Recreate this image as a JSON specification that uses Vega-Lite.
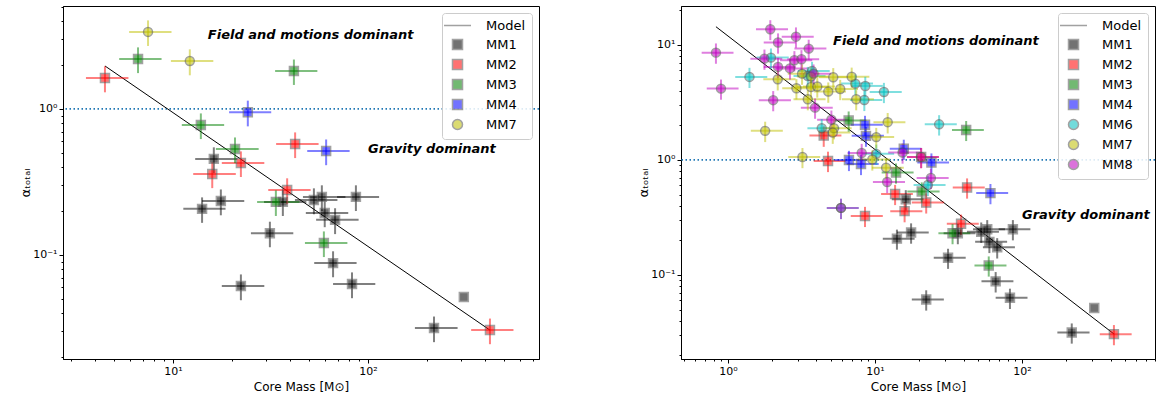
{
"$schema": "https://vega.github.io/schema/vega-lite/v6.json",
"background": "white",
"padding": {"left": 18, "top": 0, "right": 0, "bottom": 0},
"spacing": 95,
"config": {
  "font": "DejaVu Sans",
  "view": {"stroke": "black", "strokeWidth": 1},
  "axis": {"domainColor": "black", "tickColor": "black", "labelColor": "black", "titleColor": "black", "labelFontSize": 11, "titleFontSize": 12, "titleFontWeight": "normal", "grid": false, "labelPadding": 2, "labelOverlap": false, "labelFlush": false},
  "legend": {"title": null, "orient": "top-right", "offset": 7, "padding": 6, "strokeColor": "#cccccc", "fillColor": "rgba(255,255,255,0.85)", "cornerRadius": 3, "symbolSize": 100, "symbolOffset": 3, "labelOffset": 22, "labelFontSize": 13, "labelColor": "black", "rowPadding": 3, "symbolStrokeWidth": 1.5}
},
"datasets": {
  "pts": [
    {"in_left": true, "group": "MM1", "mass": 16.2, "alpha": 0.455, "mlo": 13.0, "mhi": 21.4, "alo": 0.364, "ahi": 0.546},
    {"in_left": true, "group": "MM1", "mass": 17.6, "alpha": 0.234, "mlo": 14.1, "mhi": 23.2, "alo": 0.187, "ahi": 0.281},
    {"in_left": true, "group": "MM1", "mass": 14.1, "alpha": 0.207, "mlo": 11.3, "mhi": 18.6, "alo": 0.166, "ahi": 0.248},
    {"in_left": true, "group": "MM1", "mass": 36.6, "alpha": 0.231, "mlo": 29.3, "mhi": 48.3, "alo": 0.185, "ahi": 0.277},
    {"in_left": true, "group": "MM1", "mass": 52.8, "alpha": 0.238, "mlo": 42.2, "mhi": 69.7, "alo": 0.190, "ahi": 0.286},
    {"in_left": true, "group": "MM1", "mass": 58, "alpha": 0.25, "mlo": 46.4, "mhi": 76.6, "alo": 0.2, "ahi": 0.3},
    {"in_left": true, "group": "MM1", "mass": 86.7, "alpha": 0.25, "mlo": 69.4, "mhi": 114, "alo": 0.2, "ahi": 0.3},
    {"in_left": true, "group": "MM1", "mass": 60, "alpha": 0.194, "mlo": 48, "mhi": 79.2, "alo": 0.155, "ahi": 0.233},
    {"in_left": true, "group": "MM1", "mass": 67.8, "alpha": 0.174, "mlo": 54.2, "mhi": 89.5, "alo": 0.139, "ahi": 0.209},
    {"in_left": true, "group": "MM1", "mass": 31.4, "alpha": 0.141, "mlo": 25.1, "mhi": 41.4, "alo": 0.113, "ahi": 0.169},
    {"in_left": true, "group": "MM1", "mass": 66.2, "alpha": 0.088, "mlo": 53, "mhi": 87.4, "alo": 0.0704, "ahi": 0.106},
    {"in_left": true, "group": "MM1", "mass": 22.3, "alpha": 0.0613, "mlo": 17.8, "mhi": 29.4, "alo": 0.049, "ahi": 0.0736},
    {"in_left": true, "group": "MM1", "mass": 82.8, "alpha": 0.0633, "mlo": 66.2, "mhi": 109, "alo": 0.0506, "ahi": 0.076},
    {"in_left": true, "group": "MM1", "mass": 310, "alpha": 0.0516, "mlo": 310, "mhi": 310, "alo": 0.0516, "ahi": 0.0516},
    {"in_left": true, "group": "MM1", "mass": 218, "alpha": 0.0316, "mlo": 174, "mhi": 288, "alo": 0.0253, "ahi": 0.0379},
    {"in_left": true, "group": "MM2", "mass": 4.48, "alpha": 1.63, "mlo": 3.58, "mhi": 5.91, "alo": 1.30, "ahi": 1.96},
    {"in_left": true, "group": "MM2", "mass": 42.3, "alpha": 0.576, "mlo": 33.8, "mhi": 55.8, "alo": 0.461, "ahi": 0.691},
    {"in_left": true, "group": "MM2", "mass": 22.3, "alpha": 0.427, "mlo": 17.8, "mhi": 29.4, "alo": 0.342, "ahi": 0.512},
    {"in_left": true, "group": "MM2", "mass": 15.9, "alpha": 0.359, "mlo": 12.7, "mhi": 21.0, "alo": 0.287, "ahi": 0.431},
    {"in_left": true, "group": "MM2", "mass": 38.5, "alpha": 0.279, "mlo": 30.8, "mhi": 50.8, "alo": 0.223, "ahi": 0.335},
    {"in_left": true, "group": "MM2", "mass": 422, "alpha": 0.0306, "mlo": 338, "mhi": 557, "alo": 0.0245, "ahi": 0.0367},
    {"in_left": false, "group": "MM2", "mass": 4.79, "alpha": 0.98, "mlo": 3.83, "mhi": 6.32, "alo": 0.784, "ahi": 1.18},
    {"in_left": false, "group": "MM2", "mass": 13.7, "alpha": 0.506, "mlo": 11.0, "mhi": 18.1, "alo": 0.405, "ahi": 0.607},
    {"in_left": false, "group": "MM2", "mass": 8.55, "alpha": 0.326, "mlo": 6.84, "mhi": 11.3, "alo": 0.261, "ahi": 0.391},
    {"in_left": false, "group": "MM2", "mass": 20.6, "alpha": 1.06, "mlo": 16.5, "mhi": 27.2, "alo": 0.848, "ahi": 1.27},
    {"in_left": true, "group": "MM3", "mass": 6.62, "alpha": 2.2, "mlo": 5.30, "mhi": 8.74, "alo": 1.76, "ahi": 2.64},
    {"in_left": true, "group": "MM3", "mass": 41.7, "alpha": 1.82, "mlo": 33.4, "mhi": 55.0, "alo": 1.46, "ahi": 2.18},
    {"in_left": true, "group": "MM3", "mass": 13.9, "alpha": 0.777, "mlo": 11.1, "mhi": 18.3, "alo": 0.622, "ahi": 0.932},
    {"in_left": true, "group": "MM3", "mass": 20.8, "alpha": 0.532, "mlo": 16.6, "mhi": 27.5, "alo": 0.426, "ahi": 0.638},
    {"in_left": true, "group": "MM3", "mass": 33.7, "alpha": 0.231, "mlo": 27.0, "mhi": 44.5, "alo": 0.185, "ahi": 0.277},
    {"in_left": true, "group": "MM3", "mass": 59.4, "alpha": 0.121, "mlo": 47.5, "mhi": 78.4, "alo": 0.0968, "ahi": 0.145},
    {"in_left": true, "group": "MM4", "mass": 24.2, "alpha": 0.95, "mlo": 19.4, "mhi": 31.9, "alo": 0.76, "ahi": 1.14},
    {"in_left": true, "group": "MM4", "mass": 61, "alpha": 0.515, "mlo": 48.8, "mhi": 80.5, "alo": 0.412, "ahi": 0.618},
    {"in_left": false, "group": "MM4", "mass": 8.55, "alpha": 2.02, "mlo": 6.84, "mhi": 11.3, "alo": 1.62, "ahi": 2.42},
    {"in_left": false, "group": "MM4", "mass": 8.68, "alpha": 1.62, "mlo": 6.94, "mhi": 11.5, "alo": 1.30, "ahi": 1.94},
    {"in_left": false, "group": "MM4", "mass": 15.7, "alpha": 1.25, "mlo": 12.6, "mhi": 20.7, "alo": 1.0, "ahi": 1.5},
    {"in_left": false, "group": "MM4", "mass": 6.65, "alpha": 1.0, "mlo": 5.32, "mhi": 8.78, "alo": 0.8, "ahi": 1.2},
    {"in_left": false, "group": "MM4", "mass": 8.03, "alpha": 0.923, "mlo": 6.42, "mhi": 10.6, "alo": 0.738, "ahi": 1.11},
    {"in_left": false, "group": "MM6", "mass": 1.96, "alpha": 7.76, "mlo": 1.57, "mhi": 2.59, "alo": 6.21, "ahi": 9.31},
    {"in_left": false, "group": "MM6", "mass": 1.40, "alpha": 5.27, "mlo": 1.12, "mhi": 1.85, "alo": 4.22, "ahi": 6.32},
    {"in_left": false, "group": "MM6", "mass": 3.73, "alpha": 5.94, "mlo": 2.98, "mhi": 4.92, "alo": 4.75, "ahi": 7.13},
    {"in_left": false, "group": "MM6", "mass": 3.49, "alpha": 5.37, "mlo": 2.79, "mhi": 4.61, "alo": 4.30, "ahi": 6.44},
    {"in_left": false, "group": "MM6", "mass": 7.35, "alpha": 4.61, "mlo": 5.88, "mhi": 9.70, "alo": 3.69, "ahi": 5.53},
    {"in_left": false, "group": "MM6", "mass": 8.59, "alpha": 4.40, "mlo": 6.87, "mhi": 11.3, "alo": 3.52, "ahi": 5.28},
    {"in_left": false, "group": "MM6", "mass": 11.5, "alpha": 3.90, "mlo": 9.2, "mhi": 15.2, "alo": 3.12, "ahi": 4.68},
    {"in_left": false, "group": "MM6", "mass": 8.46, "alpha": 3.32, "mlo": 6.77, "mhi": 11.2, "alo": 2.66, "ahi": 3.98},
    {"in_left": false, "group": "MM6", "mass": 4.34, "alpha": 1.89, "mlo": 3.47, "mhi": 5.73, "alo": 1.51, "ahi": 2.27},
    {"in_left": false, "group": "MM6", "mass": 10.2, "alpha": 1.13, "mlo": 8.16, "mhi": 13.5, "alo": 0.904, "ahi": 1.36},
    {"in_left": false, "group": "MM6", "mass": 27.3, "alpha": 2.04, "mlo": 21.8, "mhi": 36.0, "alo": 1.63, "ahi": 2.45},
    {"in_left": false, "group": "MM6", "mass": 22.9, "alpha": 0.606, "mlo": 18.3, "mhi": 30.2, "alo": 0.485, "ahi": 0.727},
    {"in_left": false, "group": "MM6", "mass": 5.87, "alpha": 0.383, "mlo": 4.70, "mhi": 7.75, "alo": 0.306, "ahi": 0.460},
    {"in_left": false, "group": "MM7", "mass": 2.18, "alpha": 5.03, "mlo": 1.74, "mhi": 2.88, "alo": 4.02, "ahi": 6.04},
    {"in_left": false, "group": "MM7", "mass": 3.19, "alpha": 5.63, "mlo": 2.55, "mhi": 4.21, "alo": 4.50, "ahi": 6.76},
    {"in_left": false, "group": "MM7", "mass": 3.67, "alpha": 5.32, "mlo": 2.94, "mhi": 4.84, "alo": 4.26, "ahi": 6.38},
    {"in_left": false, "group": "MM7", "mass": 5.20, "alpha": 5.24, "mlo": 4.16, "mhi": 6.86, "alo": 4.19, "ahi": 6.29},
    {"in_left": false, "group": "MM7", "mass": 6.94, "alpha": 5.29, "mlo": 5.55, "mhi": 9.16, "alo": 4.23, "ahi": 6.35},
    {"in_left": false, "group": "MM7", "mass": 2.92, "alpha": 4.20, "mlo": 2.34, "mhi": 3.85, "alo": 3.36, "ahi": 5.04},
    {"in_left": false, "group": "MM7", "mass": 3.67, "alpha": 4.31, "mlo": 2.94, "mhi": 4.84, "alo": 3.45, "ahi": 5.17},
    {"in_left": false, "group": "MM7", "mass": 4.05, "alpha": 4.35, "mlo": 3.24, "mhi": 5.35, "alo": 3.48, "ahi": 5.22},
    {"in_left": false, "group": "MM7", "mass": 4.81, "alpha": 3.93, "mlo": 3.85, "mhi": 6.35, "alo": 3.14, "ahi": 4.72},
    {"in_left": false, "group": "MM7", "mass": 5.80, "alpha": 4.14, "mlo": 4.64, "mhi": 7.66, "alo": 3.31, "ahi": 4.97},
    {"in_left": true, "group": "MM7", "mass": 7.45, "alpha": 3.37, "mlo": 5.96, "mhi": 9.83, "alo": 2.70, "ahi": 4.04},
    {"in_left": false, "group": "MM7", "mass": 3.49, "alpha": 3.37, "mlo": 2.79, "mhi": 4.61, "alo": 2.70, "ahi": 4.04},
    {"in_left": true, "group": "MM7", "mass": 12.2, "alpha": 2.13, "mlo": 9.76, "mhi": 16.1, "alo": 1.70, "ahi": 2.56},
    {"in_left": false, "group": "MM7", "mass": 5.26, "alpha": 1.89, "mlo": 4.21, "mhi": 6.94, "alo": 1.51, "ahi": 2.27},
    {"in_left": false, "group": "MM7", "mass": 5.16, "alpha": 1.73, "mlo": 4.13, "mhi": 6.81, "alo": 1.38, "ahi": 2.08},
    {"in_left": false, "group": "MM7", "mass": 1.79, "alpha": 1.79, "mlo": 1.43, "mhi": 2.36, "alo": 1.43, "ahi": 2.15},
    {"in_left": false, "group": "MM7", "mass": 10.2, "alpha": 1.58, "mlo": 8.16, "mhi": 13.5, "alo": 1.26, "ahi": 1.90},
    {"in_left": false, "group": "MM7", "mass": 3.21, "alpha": 1.06, "mlo": 2.57, "mhi": 4.24, "alo": 0.848, "ahi": 1.27},
    {"in_left": false, "group": "MM7", "mass": 9.59, "alpha": 1.01, "mlo": 7.67, "mhi": 12.7, "alo": 0.808, "ahi": 1.21},
    {"in_left": false, "group": "MM7", "mass": 11.9, "alpha": 0.857, "mlo": 9.52, "mhi": 15.7, "alo": 0.686, "ahi": 1.03},
    {"in_left": false, "group": "MM8", "mass": 1.94, "alpha": 13.7, "mlo": 1.55, "mhi": 2.56, "alo": 11.0, "ahi": 16.4},
    {"in_left": false, "group": "MM8", "mass": 2.90, "alpha": 11.8, "mlo": 2.32, "mhi": 3.83, "alo": 9.44, "ahi": 14.2},
    {"in_left": false, "group": "MM8", "mass": 2.19, "alpha": 10.5, "mlo": 1.75, "mhi": 2.89, "alo": 8.4, "ahi": 12.6},
    {"in_left": false, "group": "MM8", "mass": 0.828, "alpha": 8.57, "mlo": 0.662, "mhi": 1.09, "alo": 6.86, "ahi": 10.3},
    {"in_left": false, "group": "MM8", "mass": 3.54, "alpha": 9.29, "mlo": 2.83, "mhi": 4.67, "alo": 7.43, "ahi": 11.1},
    {"in_left": false, "group": "MM8", "mass": 1.77, "alpha": 7.60, "mlo": 1.42, "mhi": 2.34, "alo": 6.08, "ahi": 9.12},
    {"in_left": false, "group": "MM8", "mass": 2.83, "alpha": 7.36, "mlo": 2.26, "mhi": 3.74, "alo": 5.89, "ahi": 8.83},
    {"in_left": false, "group": "MM8", "mass": 3.16, "alpha": 7.51, "mlo": 2.53, "mhi": 4.17, "alo": 6.01, "ahi": 9.01},
    {"in_left": false, "group": "MM8", "mass": 2.19, "alpha": 6.44, "mlo": 1.75, "mhi": 2.89, "alo": 5.15, "ahi": 7.73},
    {"in_left": false, "group": "MM8", "mass": 2.64, "alpha": 6.25, "mlo": 2.11, "mhi": 3.48, "alo": 5.0, "ahi": 7.5},
    {"in_left": false, "group": "MM8", "mass": 3.82, "alpha": 5.63, "mlo": 3.06, "mhi": 5.04, "alo": 4.50, "ahi": 6.76},
    {"in_left": false, "group": "MM8", "mass": 0.896, "alpha": 4.17, "mlo": 0.717, "mhi": 1.18, "alo": 3.34, "ahi": 5.0},
    {"in_left": false, "group": "MM8", "mass": 2.03, "alpha": 3.31, "mlo": 1.62, "mhi": 2.68, "alo": 2.65, "ahi": 3.97},
    {"in_left": false, "group": "MM8", "mass": 3.91, "alpha": 2.85, "mlo": 3.13, "mhi": 5.16, "alo": 2.28, "ahi": 3.42},
    {"in_left": false, "group": "MM8", "mass": 5.05, "alpha": 2.24, "mlo": 4.04, "mhi": 6.67, "alo": 1.79, "ahi": 2.69},
    {"in_left": false, "group": "MM8", "mass": 8.12, "alpha": 1.15, "mlo": 6.50, "mhi": 10.7, "alo": 0.92, "ahi": 1.38},
    {"in_left": false, "group": "MM8", "mass": 15.4, "alpha": 1.16, "mlo": 12.3, "mhi": 20.3, "alo": 0.928, "ahi": 1.39},
    {"in_left": false, "group": "MM8", "mass": 20.6, "alpha": 1.06, "mlo": 16.5, "mhi": 27.2, "alo": 0.848, "ahi": 1.27},
    {"in_left": false, "group": "MM8", "mass": 24.0, "alpha": 0.697, "mlo": 19.2, "mhi": 31.7, "alo": 0.558, "ahi": 0.836},
    {"in_left": false, "group": "MM8", "mass": 12.1, "alpha": 0.644, "mlo": 9.68, "mhi": 16.0, "alo": 0.515, "ahi": 0.773},
    {"in_left": false, "group": "MM8", "mass": 5.87, "alpha": 0.383, "mlo": 4.70, "mhi": 7.75, "alo": 0.306, "ahi": 0.460}
  ],
  "model": [
    {"panel": "L", "mass": 4.48, "alpha": 1.97},
    {"panel": "L", "mass": 422, "alpha": 0.0306},
    {"panel": "R", "mass": 0.828, "alpha": 14.4},
    {"panel": "R", "mass": 422, "alpha": 0.0307}
  ]
},
"resolve": {"scale": {"x": "independent", "y": "independent", "color": "independent", "shape": "independent", "stroke": "independent"}, "legend": {"color": "independent", "shape": "independent"}},
"hconcat": [
  {
    "width": 476, "height": 353,
    "layer": [
      {
        "data": {"values": [{}]},
        "mark": {"type": "rule", "color": "#1f77b4", "strokeDash": [1.5, 2.5], "strokeWidth": 1.8},
        "encoding": {"y": {"datum": 1, "type": "quantitative", "scale": {"type": "log", "domain": [0.0194, 5.07], "nice": false}}}
      },
      {
        "data": {"name": "model"},
        "transform": [{"filter": "datum.panel === 'L'"}],
        "mark": {"type": "line", "color": "black", "strokeWidth": 1},
        "encoding": {
          "x": {"field": "mass", "type": "quantitative", "scale": {"type": "log", "domain": [2.73, 753], "nice": false}},
          "y": {"field": "alpha", "type": "quantitative", "scale": {"type": "log", "domain": [0.0194, 5.07], "nice": false}}
        }
      },
      {
        "data": {"name": "pts"},
        "transform": [{"filter": "datum.in_left"}],
        "mark": {"type": "rule", "strokeWidth": 2, "opacity": 0.5},
        "encoding": {
          "x": {"field": "mlo", "type": "quantitative", "scale": {"type": "log", "domain": [2.73, 753], "nice": false}},
          "x2": {"field": "mhi"},
          "y": {"field": "alpha", "type": "quantitative", "scale": {"type": "log", "domain": [0.0194, 5.07], "nice": false}},
          "stroke": {"field": "group", "type": "nominal", "scale": {"domain": ["MM1", "MM2", "MM3", "MM4", "MM7"], "range": ["#000000", "#ff0000", "#008000", "#0000ff", "#bfbf00"]}, "legend": null}
        }
      },
      {
        "data": {"name": "pts"},
        "transform": [{"filter": "datum.in_left"}],
        "mark": {"type": "rule", "strokeWidth": 2, "opacity": 0.5},
        "encoding": {
          "x": {"field": "mass", "type": "quantitative", "scale": {"type": "log", "domain": [2.73, 753], "nice": false}},
          "y": {"field": "alo", "type": "quantitative", "scale": {"type": "log", "domain": [0.0194, 5.07], "nice": false}},
          "y2": {"field": "ahi"},
          "stroke": {"field": "group", "type": "nominal", "scale": {"domain": ["MM1", "MM2", "MM3", "MM4", "MM7"], "range": ["#000000", "#ff0000", "#008000", "#0000ff", "#bfbf00"]}, "legend": null}
        }
      },
      {
        "data": {"name": "pts"},
        "transform": [{"filter": "datum.in_left"}],
        "mark": {"type": "point", "filled": true, "size": 80, "opacity": 0.55, "stroke": "#555555", "strokeWidth": 1.5},
        "encoding": {
          "x": {"field": "mass", "type": "quantitative", "scale": {"type": "log", "domain": [2.73, 753], "nice": false},
                "axis": {"title": "Core Mass [M⊙]", "values": [3,4,5,6,7,8,9,10,20,30,40,50,60,70,80,90,100,200,300,400,500,600,700],
                         "labelExpr": "datum.value == 10 ? '10¹' : datum.value == 100 ? '10²' : ''",
                         "tickSize": {"condition": {"test": "datum.value == 10 || datum.value == 100", "value": 4}, "value": 2}, "titlePadding": 5}},
          "y": {"field": "alpha", "type": "quantitative", "scale": {"type": "log", "domain": [0.0194, 5.07], "nice": false},
                "axis": {"title": "αₜₒₜₐₗ", "titleFontSize": 13, "values": [0.02,0.03,0.04,0.05,0.06,0.07,0.08,0.09,0.1,0.2,0.3,0.4,0.5,0.6,0.7,0.8,0.9,1,2,3,4,5],
                         "labelExpr": "datum.value == 0.1 ? '10⁻¹' : datum.value == 1 ? '10⁰' : ''",
                         "tickSize": {"condition": {"test": "datum.value == 0.1 || datum.value == 1", "value": 4}, "value": 2},
                         "minExtent": 30, "maxExtent": 30, "titlePadding": 1}},
          "color": {"field": "group", "type": "nominal", "scale": {"domain": ["Model", "MM1", "MM2", "MM3", "MM4", "MM7"], "range": ["#000000", "#000000", "#ff0000", "#008000", "#0000ff", "#bfbf00"]},
                    "legend": {"encode": {"symbols": {
                                  "size": {"signal": "datum.value === 'Model' ? 100 : 55"},
                                  "shape": {"signal": "datum.value === 'Model' ? 'M-2.7,0H2.7' : (datum.value === 'MM6' || datum.value === 'MM7' || datum.value === 'MM8') ? 'M-1,0A1,1,0,1,0,1,0A1,1,0,1,0,-1,0Z M-1.8,0H1.8 M0,-1.8V1.8' : 'M-1,-1H1V1H-1Z M-1.8,0H1.8 M0,-1.8V1.8'"},
                                  "stroke": {"signal": "datum.value === 'MM2' ? '#ff0000' : datum.value === 'MM3' ? '#008000' : datum.value === 'MM4' ? '#0000ff' : datum.value === 'MM6' ? '#00bfbf' : datum.value === 'MM7' ? '#bfbf00' : datum.value === 'MM8' ? '#bf00bf' : '#000000'"},
                                  "strokeWidth": {"signal": "datum.value === 'Model' ? 1.2 : 1.5"},
                                  "opacity": {"signal": "datum.value === 'Model' ? 1 : 0.6"}}}}},
          "shape": {"field": "group", "type": "nominal", "scale": {"domain": ["Model", "MM1", "MM2", "MM3", "MM4", "MM7"], "range": ["M-2.7,0H2.7", "square", "square", "square", "square", "circle"]},
                    "legend": {"encode": {"symbols": {
                                  "size": {"signal": "datum.value === 'Model' ? 100 : 55"},
                                  "shape": {"signal": "datum.value === 'Model' ? 'M-2.7,0H2.7' : (datum.value === 'MM6' || datum.value === 'MM7' || datum.value === 'MM8') ? 'M-1,0A1,1,0,1,0,1,0A1,1,0,1,0,-1,0Z M-1.8,0H1.8 M0,-1.8V1.8' : 'M-1,-1H1V1H-1Z M-1.8,0H1.8 M0,-1.8V1.8'"},
                                  "stroke": {"signal": "datum.value === 'MM2' ? '#ff0000' : datum.value === 'MM3' ? '#008000' : datum.value === 'MM4' ? '#0000ff' : datum.value === 'MM6' ? '#00bfbf' : datum.value === 'MM7' ? '#bfbf00' : datum.value === 'MM8' ? '#bf00bf' : '#000000'"},
                                  "strokeWidth": {"signal": "datum.value === 'Model' ? 1.2 : 1.5"},
                                  "opacity": {"signal": "datum.value === 'Model' ? 1 : 0.6"}}}}}
        }
      },
      {
        "data": {"values": [{}]},
        "mark": {"type": "text", "text": "Field and motions dominant", "fontWeight": "bold", "fontStyle": "italic", "fontSize": 13, "align": "left", "baseline": "middle", "color": "black"},
        "encoding": {"x": {"datum": 15.1, "type": "quantitative"}, "y": {"datum": 3.21, "type": "quantitative"}}
      },
      {
        "data": {"values": [{}]},
        "mark": {"type": "text", "text": "Gravity dominant", "fontWeight": "bold", "fontStyle": "italic", "fontSize": 13, "align": "left", "baseline": "middle", "color": "black"},
        "encoding": {"x": {"datum": 100, "type": "quantitative"}, "y": {"datum": 0.532, "type": "quantitative"}}
      }
    ]
  },
  {
    "width": 474, "height": 353,
    "layer": [
      {
        "data": {"values": [{}]},
        "mark": {"type": "rule", "color": "#1f77b4", "strokeDash": [1.5, 2.5], "strokeWidth": 1.8},
        "encoding": {"y": {"datum": 1, "type": "quantitative", "scale": {"type": "log", "domain": [0.0186, 21.8], "nice": false}}}
      },
      {
        "data": {"name": "model"},
        "transform": [{"filter": "datum.panel === 'R'"}],
        "mark": {"type": "line", "color": "black", "strokeWidth": 1},
        "encoding": {
          "x": {"field": "mass", "type": "quantitative", "scale": {"type": "log", "domain": [0.479, 803], "nice": false}},
          "y": {"field": "alpha", "type": "quantitative", "scale": {"type": "log", "domain": [0.0186, 21.8], "nice": false}}
        }
      },
      {
        "data": {"name": "pts"},
        "mark": {"type": "rule", "strokeWidth": 2, "opacity": 0.5},
        "encoding": {
          "x": {"field": "mlo", "type": "quantitative", "scale": {"type": "log", "domain": [0.479, 803], "nice": false}},
          "x2": {"field": "mhi"},
          "y": {"field": "alpha", "type": "quantitative", "scale": {"type": "log", "domain": [0.0186, 21.8], "nice": false}},
          "stroke": {"field": "group", "type": "nominal", "scale": {"domain": ["MM1", "MM2", "MM3", "MM4", "MM6", "MM7", "MM8"], "range": ["#000000", "#ff0000", "#008000", "#0000ff", "#00bfbf", "#bfbf00", "#bf00bf"]}, "legend": null}
        }
      },
      {
        "data": {"name": "pts"},
        "mark": {"type": "rule", "strokeWidth": 2, "opacity": 0.5},
        "encoding": {
          "x": {"field": "mass", "type": "quantitative", "scale": {"type": "log", "domain": [0.479, 803], "nice": false}},
          "y": {"field": "alo", "type": "quantitative", "scale": {"type": "log", "domain": [0.0186, 21.8], "nice": false}},
          "y2": {"field": "ahi"},
          "stroke": {"field": "group", "type": "nominal", "scale": {"domain": ["MM1", "MM2", "MM3", "MM4", "MM6", "MM7", "MM8"], "range": ["#000000", "#ff0000", "#008000", "#0000ff", "#00bfbf", "#bfbf00", "#bf00bf"]}, "legend": null}
        }
      },
      {
        "data": {"name": "pts"},
        "mark": {"type": "point", "filled": true, "size": 80, "opacity": 0.55, "stroke": "#555555", "strokeWidth": 1.5},
        "encoding": {
          "x": {"field": "mass", "type": "quantitative", "scale": {"type": "log", "domain": [0.479, 803], "nice": false},
                "axis": {"title": "Core Mass [M⊙]", "values": [0.5,0.6,0.7,0.8,0.9,1,2,3,4,5,6,7,8,9,10,20,30,40,50,60,70,80,90,100,200,300,400,500,600,700,800],
                         "labelExpr": "datum.value == 1 ? '10⁰' : datum.value == 10 ? '10¹' : datum.value == 100 ? '10²' : ''",
                         "tickSize": {"condition": {"test": "datum.value == 1 || datum.value == 10 || datum.value == 100", "value": 4}, "value": 2}, "titlePadding": 5}},
          "y": {"field": "alpha", "type": "quantitative", "scale": {"type": "log", "domain": [0.0186, 21.8], "nice": false},
                "axis": {"title": "αₜₒₜₐₗ", "titleFontSize": 13, "values": [0.02,0.03,0.04,0.05,0.06,0.07,0.08,0.09,0.1,0.2,0.3,0.4,0.5,0.6,0.7,0.8,0.9,1,2,3,4,5,6,7,8,9,10,20],
                         "labelExpr": "datum.value == 0.1 ? '10⁻¹' : datum.value == 1 ? '10⁰' : datum.value == 10 ? '10¹' : ''",
                         "tickSize": {"condition": {"test": "datum.value == 0.1 || datum.value == 1 || datum.value == 10", "value": 4}, "value": 2},
                         "minExtent": 30, "maxExtent": 30, "titlePadding": 1}},
          "color": {"field": "group", "type": "nominal", "scale": {"domain": ["Model", "MM1", "MM2", "MM3", "MM4", "MM6", "MM7", "MM8"], "range": ["#000000", "#000000", "#ff0000", "#008000", "#0000ff", "#00bfbf", "#bfbf00", "#bf00bf"]},
                    "legend": {"encode": {"symbols": {
                                  "size": {"signal": "datum.value === 'Model' ? 100 : 55"},
                                  "shape": {"signal": "datum.value === 'Model' ? 'M-2.7,0H2.7' : (datum.value === 'MM6' || datum.value === 'MM7' || datum.value === 'MM8') ? 'M-1,0A1,1,0,1,0,1,0A1,1,0,1,0,-1,0Z M-1.8,0H1.8 M0,-1.8V1.8' : 'M-1,-1H1V1H-1Z M-1.8,0H1.8 M0,-1.8V1.8'"},
                                  "stroke": {"signal": "datum.value === 'MM2' ? '#ff0000' : datum.value === 'MM3' ? '#008000' : datum.value === 'MM4' ? '#0000ff' : datum.value === 'MM6' ? '#00bfbf' : datum.value === 'MM7' ? '#bfbf00' : datum.value === 'MM8' ? '#bf00bf' : '#000000'"},
                                  "strokeWidth": {"signal": "datum.value === 'Model' ? 1.2 : 1.5"},
                                  "opacity": {"signal": "datum.value === 'Model' ? 1 : 0.6"}}}}},
          "shape": {"field": "group", "type": "nominal", "scale": {"domain": ["Model", "MM1", "MM2", "MM3", "MM4", "MM6", "MM7", "MM8"], "range": ["M-2.7,0H2.7", "square", "square", "square", "square", "circle", "circle", "circle"]},
                    "legend": {"encode": {"symbols": {
                                  "size": {"signal": "datum.value === 'Model' ? 100 : 55"},
                                  "shape": {"signal": "datum.value === 'Model' ? 'M-2.7,0H2.7' : (datum.value === 'MM6' || datum.value === 'MM7' || datum.value === 'MM8') ? 'M-1,0A1,1,0,1,0,1,0A1,1,0,1,0,-1,0Z M-1.8,0H1.8 M0,-1.8V1.8' : 'M-1,-1H1V1H-1Z M-1.8,0H1.8 M0,-1.8V1.8'"},
                                  "stroke": {"signal": "datum.value === 'MM2' ? '#ff0000' : datum.value === 'MM3' ? '#008000' : datum.value === 'MM4' ? '#0000ff' : datum.value === 'MM6' ? '#00bfbf' : datum.value === 'MM7' ? '#bfbf00' : datum.value === 'MM8' ? '#bf00bf' : '#000000'"},
                                  "strokeWidth": {"signal": "datum.value === 'Model' ? 1.2 : 1.5"},
                                  "opacity": {"signal": "datum.value === 'Model' ? 1 : 0.6"}}}}}
        }
      },
      {
        "data": {"values": [{}]},
        "mark": {"type": "text", "text": "Field and motions dominant", "fontWeight": "bold", "fontStyle": "italic", "fontSize": 13, "align": "left", "baseline": "middle", "color": "black"},
        "encoding": {"x": {"datum": 5.18, "type": "quantitative"}, "y": {"datum": 10.8, "type": "quantitative"}}
      },
      {
        "data": {"values": [{}]},
        "mark": {"type": "text", "text": "Gravity dominant", "fontWeight": "bold", "fontStyle": "italic", "fontSize": 13, "align": "left", "baseline": "middle", "color": "black"},
        "encoding": {"x": {"datum": 100, "type": "quantitative"}, "y": {"datum": 0.332, "type": "quantitative"}}
      }
    ]
  }
]
}
